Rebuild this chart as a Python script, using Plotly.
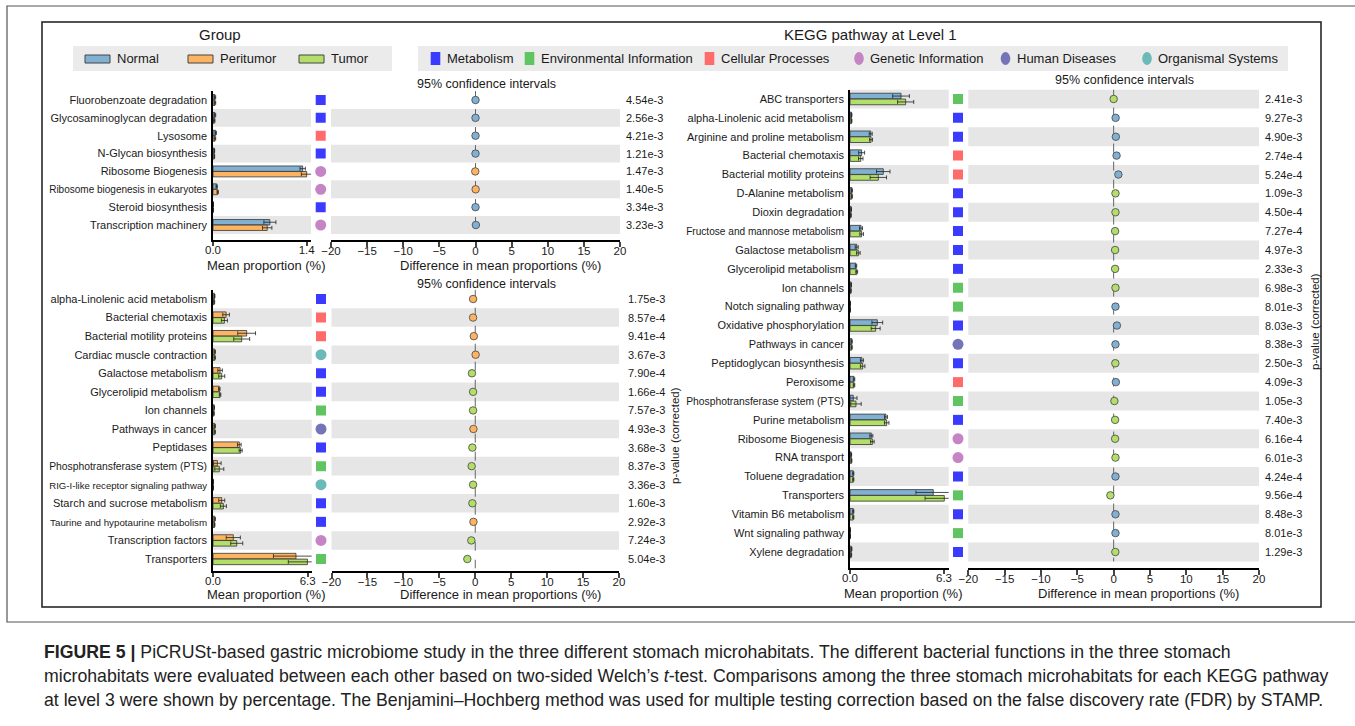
import plotly.graph_objects as go

# ---------------- data ----------------
TL_labels = ["Fluorobenzoate degradation", "Glycosaminoglycan degradation", "Lysosome",
             "N-Glycan biosynthesis", "Ribosome Biogenesis", "Ribosome biogenesis in eukaryotes",
             "Steroid biosynthesis", "Transcription machinery"]
TL_cat = ["Metabolism", "Metabolism", "Cellular Processes", "Metabolism",
          "Genetic Information", "Genetic Information", "Metabolism", "Genetic Information"]
TL_normal = [0.03, 0.03, 0.04, 0.02, 1.34, 0.055, 0.006, 0.85]
TL_normal_err = [0.01, 0.01, 0.01, 0.005, 0.04, 0.01, 0.002, 0.09]
TL_peri = [0.03, 0.02, 0.03, 0.02, 1.40, 0.07, 0.004, 0.81]
TL_peri_err = [0.01, 0.01, 0.01, 0.005, 0.08, 0.01, 0.002, 0.07]
TL_diff = [0.0, 0.0, 0.0, 0.0, -0.03, 0.02, 0.0, 0.05]
TL_diff_err = [0.05, 0.05, 0.05, 0.05, 0.1, 0.05, 0.03, 0.1]
TL_higher = ["Normal", "Normal", "Normal", "Normal", "Peritumor", "Peritumor", "Normal", "Normal"]
TL_p = ["4.54e-3", "2.56e-3", "4.21e-3", "1.21e-3", "1.47e-3", "1.40e-5", "3.34e-3", "3.23e-3"]

BL_labels = ["alpha-Linolenic acid metabolism", "Bacterial chemotaxis", "Bacterial motility proteins",
             "Cardiac muscle contraction", "Galactose metabolism", "Glycerolipid metabolism",
             "Ion channels", "Pathways in cancer", "Peptidases", "Phosphotransferase system (PTS)",
             "RIG-I-like receptor signaling pathway", "Starch and sucrose metabolism",
             "Taurine and hypotaurine metabolism", "Transcription factors", "Transporters"]
BL_cat = ["Metabolism", "Cellular Processes", "Cellular Processes", "Organismal Systems",
          "Metabolism", "Metabolism", "Environmental Information", "Human Diseases", "Metabolism",
          "Environmental Information", "Organismal Systems", "Metabolism", "Metabolism",
          "Genetic Information", "Environmental Information"]
BL_peri = [0.10, 0.87, 2.24, 0.12, 0.47, 0.42, 0.08, 0.12, 1.75, 0.29, 0.02, 0.58, 0.12, 1.35, 5.52]
BL_peri_err = [0.03, 0.22, 0.59, 0.04, 0.15, 0.05, 0.02, 0.04, 0.12, 0.25, 0.01, 0.2, 0.04, 0.47, 1.5]
BL_tumor = [0.08, 0.76, 1.91, 0.12, 0.58, 0.47, 0.06, 0.12, 1.84, 0.42, 0.02, 0.69, 0.10, 1.58, 6.28]
BL_tumor_err = [0.03, 0.2, 0.53, 0.04, 0.2, 0.05, 0.02, 0.04, 0.1, 0.3, 0.01, 0.2, 0.03, 0.4, 1.27]
BL_diff = [-0.3, -0.3, -0.2, 0.05, -0.46, -0.3, -0.3, -0.25, -0.4, -0.5, -0.3, -0.4, -0.25, -0.55, -1.1]
BL_diff_err = [0.1, 0.15, 0.2, 0.1, 0.15, 0.1, 0.1, 0.1, 0.15, 0.2, 0.1, 0.15, 0.1, 0.2, 0.3]
BL_higher = ["Peritumor", "Peritumor", "Peritumor", "Peritumor", "Tumor", "Tumor", "Tumor",
             "Peritumor", "Tumor", "Tumor", "Tumor", "Tumor", "Peritumor", "Tumor", "Tumor"]
BL_p = ["1.75e-3", "8.57e-4", "9.41e-4", "3.67e-3", "7.90e-4", "1.66e-4", "7.57e-3", "4.93e-3",
        "3.68e-3", "8.37e-3", "3.36e-3", "1.60e-3", "2.92e-3", "7.24e-3", "5.04e-3"]

R_labels = ["ABC transporters", "alpha-Linolenic acid metabolism", "Arginine and proline metabolism",
            "Bacterial chemotaxis", "Bacterial motility proteins", "D-Alanine metabolism",
            "Dioxin degradation", "Fructose and mannose metabolism", "Galactose metabolism",
            "Glycerolipid metabolism", "Ion channels", "Notch signaling pathway",
            "Oxidative phosphorylation", "Pathways in cancer", "Peptidoglycan biosynthesis",
            "Peroxisome", "Phosphotransferase system (PTS)", "Purine metabolism",
            "Ribosome Biogenesis", "RNA transport", "Toluene degradation", "Transporters",
            "Vitamin B6 metabolism", "Wnt signaling pathway", "Xylene degradation"]
R_cat = ["Environmental Information", "Metabolism", "Metabolism", "Cellular Processes",
         "Cellular Processes", "Metabolism", "Metabolism", "Metabolism", "Metabolism", "Metabolism",
         "Environmental Information", "Environmental Information", "Metabolism", "Human Diseases",
         "Metabolism", "Cellular Processes", "Environmental Information", "Metabolism",
         "Genetic Information", "Genetic Information", "Metabolism", "Environmental Information",
         "Metabolism", "Environmental Information", "Metabolism"]
R_normal = [3.42, 0.10, 1.39, 0.78, 2.23, 0.13, 0.08, 0.74, 0.45, 0.40, 0.08, 0.02, 1.83, 0.12,
            0.80, 0.27, 0.22, 2.41, 1.43, 0.08, 0.22, 5.58, 0.22, 0.02, 0.10]
R_normal_err = [0.56, 0.03, 0.1, 0.2, 0.45, 0.03, 0.02, 0.1, 0.1, 0.05, 0.02, 0.01, 0.36, 0.03,
                0.1, 0.05, 0.25, 0.1, 0.1, 0.03, 0.04, 1.16, 0.04, 0.01, 0.03]
R_tumor = [3.73, 0.10, 1.41, 0.72, 1.90, 0.13, 0.06, 0.78, 0.56, 0.45, 0.06, 0.02, 1.72, 0.12,
           0.85, 0.27, 0.40, 2.46, 1.50, 0.10, 0.22, 6.32, 0.22, 0.02, 0.08]
R_tumor_err = [0.54, 0.03, 0.1, 0.15, 0.55, 0.03, 0.02, 0.12, 0.12, 0.06, 0.02, 0.01, 0.3, 0.03,
               0.15, 0.05, 0.35, 0.15, 0.12, 0.03, 0.04, 1.29, 0.04, 0.01, 0.03]
R_diff = [0.0, 0.27, 0.3, 0.4, 0.65, 0.25, 0.25, 0.2, 0.2, 0.2, 0.25, 0.25, 0.45, 0.25, 0.23,
          0.3, 0.1, 0.2, 0.2, 0.25, 0.25, -0.45, 0.25, 0.25, 0.23]
R_diff_err = [0.2, 0.1, 0.1, 0.1, 0.2, 0.1, 0.1, 0.1, 0.1, 0.1, 0.1, 0.1, 0.15, 0.1, 0.1,
              0.1, 0.15, 0.1, 0.1, 0.1, 0.1, 0.3, 0.1, 0.1, 0.1]
R_higher = ["Tumor", "Normal", "Normal", "Normal", "Normal", "Tumor", "Tumor", "Tumor", "Tumor",
            "Tumor", "Tumor", "Normal", "Normal", "Normal", "Tumor", "Normal", "Tumor", "Tumor",
            "Tumor", "Tumor", "Normal", "Tumor", "Normal", "Normal", "Tumor"]
R_p = ["2.41e-3", "9.27e-3", "4.90e-3", "2.74e-4", "5.24e-4", "1.09e-3", "4.50e-4", "7.27e-4",
       "4.97e-3", "2.33e-3", "6.98e-3", "8.01e-3", "8.03e-3", "8.38e-3", "2.50e-3", "4.09e-3",
       "1.05e-3", "7.40e-3", "6.16e-4", "6.01e-3", "4.24e-4", "9.56e-4", "8.48e-3", "8.01e-3",
       "1.29e-3"]

group_names = ["Normal", "Peritumor", "Tumor"]
kegg_names = ["Metabolism", "Environmental Information", "Cellular Processes",
              "Genetic Information", "Human Diseases", "Organismal Systems"]

caption_lines = [
    "<b>FIGURE 5 |</b> PiCRUSt-based gastric microbiome study in the three different stomach microhabitats. The different bacterial functions in the three stomach",
    "microhabitats were evaluated between each other based on two-sided Welch\u2019s <i>t</i>-test. Comparisons among the three stomach microhabitats for each KEGG pathway",
    "at level 3 were shown by percentage. The Benjamini\u2013Hochberg method was used for multiple testing correction based on the false discovery rate (FDR) by STAMP.",
]

# ---------------- styles ----------------
W, H = 1355, 726
def fx(p): return p / W
def fy(p): return 1 - p / H

FONT = "Liberation Sans, Arial, Helvetica, sans-serif"
TXT = "#1a1a1a"
GROUP_COLORS = {"Normal": "#80b1d3", "Peritumor": "#fdb462", "Tumor": "#b3de69"}
CAT_STYLE = {
    "Metabolism": ("square", "#3b3bff"),
    "Environmental Information": ("square", "#60c460"),
    "Cellular Processes": ("square", "#ff6b6b"),
    "Genetic Information": ("circle", "#c585c5"),
    "Human Diseases": ("circle", "#7474b8"),
    "Organismal Systems": ("circle", "#6cb9b9"),
}
BAND = "#e6e6e6"

# Arial advance widths (per 1000 em) used to shrink long row labels like the original does
_AW = {" ": 278, "-": 333, "(": 333, ")": 333, ".": 278, "f": 278, "i": 222, "j": 222, "l": 222,
       "r": 333, "t": 278, "c": 500, "k": 500, "s": 500, "v": 500, "x": 500, "y": 500, "z": 500,
       "m": 833, "w": 722, "I": 278, "J": 500, "A": 667, "B": 667, "C": 722, "D": 722, "E": 667,
       "F": 611, "G": 778, "H": 722, "K": 667, "L": 556, "M": 833, "N": 722, "O": 778, "P": 667,
       "R": 722, "S": 667, "T": 611, "U": 722, "V": 667, "W": 944, "X": 667, "Y": 667}

def fit_label(s, size=11.0, cap=158.0):
    w = sum(_AW.get(ch, 556) for ch in s) / 1000 * size
    if w <= cap:
        return s
    return f'<span style="font-size:{size * cap / w:.2f}px">{s}</span>'

panels = [
    dict(labels=TL_labels, cats=TL_cat, g1="Normal", g2="Peritumor",
         v1=TL_normal, e1=TL_normal_err, v2=TL_peri, e2=TL_peri_err,
         diff=TL_diff, derr=TL_diff_err, higher=TL_higher, p=TL_p, band_parity=1,
         row0=100, rowN=225, axis_px=240, bx0=213, bx1=311, tick=1.4, tick_px=306.7,
         mark_x=320.7, cx0=331, cx1=620, pshift=4,
         mean_pos=(266, 265), diff_pos=(500, 265), ci_pos=(486, 84), pv_pos=None),
    dict(labels=BL_labels, cats=BL_cat, g1="Peritumor", g2="Tumor",
         v1=BL_peri, e1=BL_peri_err, v2=BL_tumor, e2=BL_tumor_err,
         diff=BL_diff, derr=BL_diff_err, higher=BL_higher, p=BL_p, band_parity=1,
         row0=299, rowN=559, axis_px=571, bx0=213, bx1=311.7, tick=6.3, tick_px=307.7,
         mark_x=321, cx0=331.5, cx1=619, pshift=7,
         mean_pos=(266, 594), diff_pos=(500, 594), ci_pos=(486, 284), pv_pos=(675, 436)),
    dict(labels=R_labels, cats=R_cat, g1="Normal", g2="Tumor",
         v1=R_normal, e1=R_normal_err, v2=R_tumor, e2=R_tumor_err,
         diff=R_diff, derr=R_diff_err, higher=R_higher, p=R_p, band_parity=0,
         row0=99, rowN=552, axis_px=568, bx0=850, bx1=948.7, tick=6.3, tick_px=944,
         mark_x=958, cx0=968.3, cx1=1259, pshift=4,
         mean_pos=(904, 593), diff_pos=(1138, 593), ci_pos=(1124, 80), pv_pos=(1315, 322)),
]

fig = go.Figure()
layout = dict(width=W, height=H, margin=dict(l=0, r=0, t=0, b=0, autoexpand=False),
              paper_bgcolor="white", plot_bgcolor="rgba(0,0,0,0)",
              showlegend=False, barmode="overlay",
              font=dict(family=FONT, color=TXT, size=11))
shapes, annotations = [], []

def ref(prefix, i):
    return prefix if i == 1 else f"{prefix}{i}"

def key(prefix, i):
    return f"{prefix}axis" if i == 1 else f"{prefix}axis{i}"

def text_at(text, xpx, ypx, size, anchor="center", angle=0, color=TXT):
    return dict(text=text, xref="paper", yref="paper", x=fx(xpx), y=fy(ypx),
                xanchor=anchor, yanchor="middle", textangle=angle, showarrow=False,
                font=dict(size=size, color=color, family=FONT))

for k, P in enumerate(panels):
    n = len(P["labels"])
    rows = list(range(n))
    d = (P["rowN"] - P["row0"]) / (n - 1)
    yi = k + 1
    xb, xm, xc = 3 * k + 1, 3 * k + 2, 3 * k + 3
    yr = ref("y", yi)
    xbr, xmr, xcr = ref("x", xb), ref("x", xm), ref("x", xc)

    ybot = (P["axis_px"] - P["row0"]) / d
    layout[key("y", yi)] = dict(
        domain=[fy(P["axis_px"]), fy(P["row0"] - d / 2)], range=[ybot, -0.5],
        anchor=xbr, tickvals=rows, ticktext=[fit_label(s) for s in P["labels"]], ticks="",
        automargin=False, showline=True, linecolor="black", linewidth=1.5, showgrid=False,
        zeroline=False, tickfont=dict(size=11, color=TXT), ticklabelstandoff=2)
    xmax = P["tick"] * (P["bx1"] - P["bx0"]) / (P["tick_px"] - P["bx0"])
    layout[key("x", xb)] = dict(
        domain=[fx(P["bx0"]), fx(P["bx1"])], range=[0, xmax], anchor=yr, automargin=False,
        tickvals=[0, P["tick"]], ticktext=["0.0", f"{P['tick']:.1f}"], ticks="outside",
        ticklen=4, tickwidth=1.5, showline=True, linecolor="black", linewidth=1.5,
        showgrid=False, zeroline=False, tickfont=dict(size=11.5, color=TXT),
        ticklabelstandoff=-6)
    layout[key("x", xm)] = dict(domain=[fx(P["mark_x"] - 7), fx(P["mark_x"] + 7)],
                                range=[0, 1], anchor=yr, visible=False)
    layout[key("x", xc)] = dict(
        domain=[fx(P["cx0"]), fx(P["cx1"])], range=[-20, 20], anchor=yr, automargin=False,
        tickvals=[-20, -15, -10, -5, 0, 5, 10, 15, 20], ticks="outside", ticklen=5,
        tickwidth=1.5, showline=True, linecolor="black", linewidth=1.5,
        showgrid=False, zeroline=False, tickfont=dict(size=11.5, color=TXT),
        ticklabelstandoff=-6)

    for i in rows:
        if i % 2 == P["band_parity"]:
            for xr in (xbr, xcr):
                shapes.append(dict(type="rect", xref=f"{xr} domain", yref=yr, x0=0, x1=1,
                                   y0=i - 0.5, y1=i + 0.5, fillcolor=BAND,
                                   line=dict(width=0), layer="below"))
    shapes.append(dict(type="line", xref=xcr, yref=yr, x0=0, x1=0, y0=-0.5, y1=n - 0.5,
                       line=dict(color="#666666", width=1, dash="dash"), layer="below"))

    for g, vals, errs, off in ((P["g1"], P["v1"], P["e1"], -0.155),
                               (P["g2"], P["v2"], P["e2"], 0.155)):
        fig.add_trace(go.Bar(
            x=vals, y=[r + off for r in rows], orientation="h", width=0.3,
            marker=dict(color=GROUP_COLORS[g], line=dict(color="#333333", width=0.8)),
            error_x=dict(type="data", array=errs, color="#222222", thickness=0.8, width=2),
            xaxis=xbr, yaxis=yr, name=g, hoverinfo="x+y"))

    for cat in kegg_names:
        idx = [i for i in rows if P["cats"][i] == cat]
        if not idx:
            continue
        sym, col = CAT_STYLE[cat]
        fig.add_trace(go.Scatter(
            x=[0.5] * len(idx), y=idx, mode="markers", xaxis=xmr, yaxis=yr, name=cat,
            marker=dict(symbol=sym, color=col, size=10 if sym == "square" else 11,
                        line=dict(width=0))))

    fig.add_trace(go.Scatter(
        x=P["diff"], y=rows, mode="markers", xaxis=xcr, yaxis=yr,
        marker=dict(size=7.5, color=[GROUP_COLORS[h] for h in P["higher"]],
                    line=dict(color="#444444", width=0.8)),
        error_x=dict(type="data", array=P["derr"], color="#444444", thickness=0.8, width=2)))

    for i in rows:
        annotations.append(dict(text=P["p"][i], xref=f"{xcr} domain", yref=yr, x=1, y=i,
                                xanchor="left", yanchor="middle", xshift=P["pshift"],
                                showarrow=False, font=dict(size=11, color=TXT)))
    annotations.append(text_at("Mean proportion (%)", *P["mean_pos"], 13))
    annotations.append(text_at("Difference in mean proportions (%)", *P["diff_pos"], 13))
    annotations.append(text_at("95% confidence intervals", *P["ci_pos"], 12.5))
    if P["pv_pos"]:
        annotations.append(text_at("p-value (corrected)", *P["pv_pos"], 11.5, angle=-90))

# ---------------- legends ----------------
annotations.append(text_at("Group", 220, 35, 15))
annotations.append(text_at("KEGG pathway at Level 1", 871, 35, 15))
shapes.append(dict(type="rect", xref="paper", yref="paper", x0=fx(73), x1=fx(392),
                   y0=fy(71), y1=fy(46), fillcolor="#ebebeb", line=dict(width=0)))
shapes.append(dict(type="rect", xref="paper", yref="paper", x0=fx(418), x1=fx(1288),
                   y0=fy(71), y1=fy(46), fillcolor="#ebebeb", line=dict(width=0)))
group_leg_x = [85, 188, 299]
for g, gx in zip(group_names, group_leg_x):
    shapes.append(dict(type="rect", xref="paper", yref="paper", x0=fx(gx), x1=fx(gx + 25),
                       y0=fy(63), y1=fy(55), fillcolor=GROUP_COLORS[g],
                       line=dict(color="#444444", width=1)))
    annotations.append(text_at(g, gx + 30, 58.5, 13, anchor="left"))
kegg_leg_x = [435.5, 529.5, 709.5, 859, 1005.5, 1147]
for c, cxp in zip(kegg_names, kegg_leg_x):
    sym, col = CAT_STYLE[c]
    shapes.append(dict(type="rect" if sym == "square" else "circle", xref="paper", yref="paper",
                       x0=fx(cxp - 4.8), x1=fx(cxp + 4.8), y0=fy(65), y1=fy(52),
                       fillcolor=col, line=dict(width=0)))
    annotations.append(text_at(c, cxp + 9, 58.5, 13, anchor="left"))

# ---------------- frames ----------------
shapes.append(dict(type="rect", xref="paper", yref="paper", x0=fx(42), x1=fx(1321),
                   y0=fy(607), y1=fy(22), line=dict(color="#1a1a1a", width=1.5)))
shapes.append(dict(type="rect", xref="paper", yref="paper", x0=fx(7), x1=fx(1365),
                   y0=fy(622), y1=fy(6), line=dict(color="#555555", width=1.2)))

# ---------------- caption ----------------
for line, ypx in zip(caption_lines, [652, 676, 700]):
    annotations.append(text_at(line, 42, ypx, 17.7, anchor="left", color="#222222"))

layout["shapes"] = shapes
layout["annotations"] = annotations
fig.update_layout(**layout)
fig.write_html("out.html", config={"displayModeBar": False},
               post_script="document.body.style.margin='0';document.body.style.overflow='hidden';")
